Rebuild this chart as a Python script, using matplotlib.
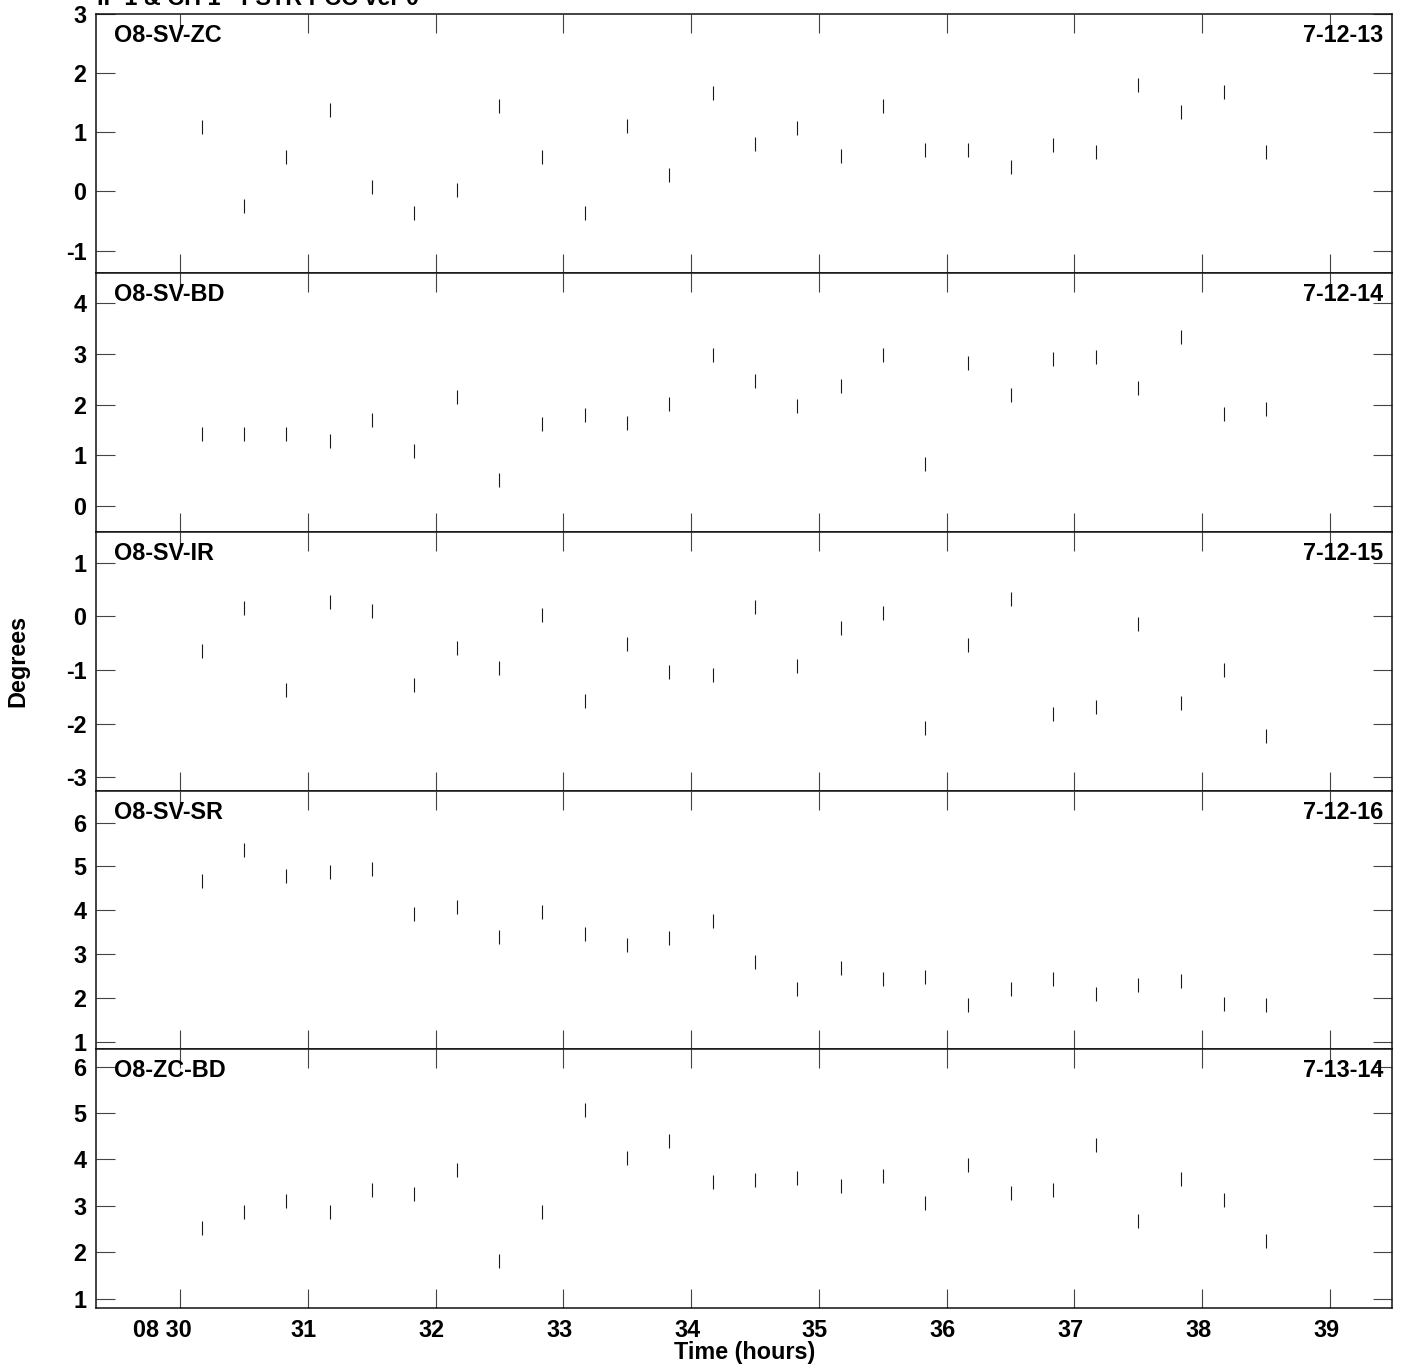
import matplotlib
matplotlib.use("Agg")
import matplotlib.pyplot as plt
from matplotlib.transforms import ScaledTranslation

plt.rcParams['font.family'] = ['Liberation Sans', 'DejaVu Sans']
plt.rcParams['font.weight'] = 'bold'

title = "IF 1 & CH 1 - FSTR PCC ver 0"

times = [30.17, 30.50, 30.83, 31.17, 31.50, 31.83, 32.17, 32.50, 32.83, 33.17,
         33.50, 33.83, 34.17, 34.50, 34.83, 35.17, 35.50, 35.83, 36.17, 36.50,
         36.83, 37.17, 37.50, 37.83, 38.17, 38.50]

names_left = ["O8-SV-ZC", "O8-SV-BD", "O8-SV-IR", "O8-SV-SR", "O8-ZC-BD"]
names_right = ["7-12-13", "7-12-14", "7-12-15", "7-12-16", "7-13-14"]

sv_zc = [1.09, -0.24, 0.58, 1.38, 0.07, -0.36, 0.02, 1.45, 0.58, -0.37,
         1.11, 0.27, 1.66, 0.80, 1.08, 0.59, 1.44, 0.70, 0.70, 0.41,
         0.79, 0.67, 1.80, 1.34, 1.68, 0.67]
sv_bd = [1.42, 1.43, 1.42, 1.28, 1.70, 1.09, 2.15, 0.52, 1.62, 1.79,
         1.63, 2.01, 2.97, 2.46, 1.97, 2.36, 2.97, 0.83, 2.81, 2.18,
         2.90, 2.94, 2.32, 3.32, 1.82, 1.91]
sv_ir = [-0.64, 0.16, -1.38, 0.26, 0.09, -1.28, -0.60, -0.96, 0.02, -1.58,
         -0.52, -1.03, -1.10, 0.17, -0.93, -0.21, 0.06, -2.08, -0.53, 0.33,
         -1.82, -1.69, -0.14, -1.61, -1.01, -2.24]
sv_sr = [4.66, 5.37, 4.79, 4.88, 4.94, 3.92, 4.08, 3.39, 3.97, 3.45,
         3.21, 3.36, 3.76, 2.82, 2.20, 2.69, 2.43, 2.47, 1.85, 2.21,
         2.44, 2.09, 2.31, 2.40, 1.86, 1.85]
zc_bd = [2.53, 2.87, 3.10, 2.86, 3.34, 3.26, 3.77, 1.81, 2.86, 5.06,
         4.04, 4.40, 3.51, 3.55, 3.60, 3.42, 3.64, 3.06, 3.87, 3.27,
         3.34, 4.31, 2.68, 3.58, 3.13, 2.24]

series = [sv_zc, sv_bd, sv_ir, sv_sr, zc_bd]
ylims = [(-1.378, 2.995), (-0.497, 4.587), (-3.25, 1.576), (0.83, 6.73), (0.79, 6.37)]
yticks = [[-1, 0, 1, 2, 3], [0, 1, 2, 3, 4], [-3, -2, -1, 0, 1],
          [1, 2, 3, 4, 5, 6], [1, 2, 3, 4, 5, 6]]

xticks = [30, 31, 32, 33, 34, 35, 36, 37, 38, 39]
xticklabels = ["08 30", "31", "32", "33", "34", "35", "36", "37", "38", "39"]
xlim = (29.345, 39.487)

W, H = 1406, 1366
fig = plt.figure(figsize=(W / 100, H / 100), dpi=100)

left = 96.3 / W
right = 1392.3 / W
top = 1 - 14 / H
bottom = 1 - 1308.3 / H
ph = (top - bottom) / 5

FS = 16.8
for i in range(5):
    y0 = top - (i + 1) * ph
    ax = fig.add_axes([left, y0, right - left, ph])
    ax.plot(times, series[i], linestyle='none', marker='|', markersize=9.4,
            markeredgewidth=0.8, color='#1a1a1a')
    ax.set_xlim(*xlim)
    ax.set_ylim(*ylims[i])
    ax.set_yticks(yticks[i])
    ax.set_yticklabels([str(v) for v in yticks[i]])
    ax.set_xticks(xticks)
    if i == 4:
        ax.set_xticklabels(xticklabels)
    else:
        ax.set_xticklabels([])
    ax.tick_params(axis='both', direction='in', length=13.7, width=0.8,
                   color='#444444', labelsize=FS, top=True, right=True)
    ax.tick_params(axis='y', pad=7)
    ax.tick_params(axis='x', pad=8)
    for lab in ax.get_yticklabels() + ax.get_xticklabels():
        lab.set_fontweight('bold')
    if i == 4:
        for k, lab in enumerate(ax.get_xticklabels()):
            dx = -18 if k == 0 else -4
            lab.set_transform(lab.get_transform() +
                              ScaledTranslation(dx / 100, 0, fig.dpi_scale_trans))
    for sp in ax.spines.values():
        sp.set_linewidth(1.1)
        sp.set_color('#111111')
    ax.text(18 / (right - left) / W, 1 - 10 / (ph * H), names_left[i],
            transform=ax.transAxes, ha='left', va='top', fontsize=FS,
            fontweight='bold', color='black')
    ax.text(1 - 9 / (right - left) / W, 1 - 10 / (ph * H), names_right[i],
            transform=ax.transAxes, ha='right', va='top', fontsize=FS,
            fontweight='bold', color='black')

fig.text(18 / W, (top + bottom) / 2, "Degrees", rotation=90, ha='center',
         va='center', fontsize=FS, fontweight='bold')
fig.text((left + right) / 2, 1 - 1353 / H, "Time (hours)", ha='center',
         va='center', fontsize=FS, fontweight='bold')
fig.text(97 / W, 1 - 5 / H, title, ha='left', va='baseline', fontsize=FS,
         fontweight='bold')

fig.savefig("out.png", dpi=100)
